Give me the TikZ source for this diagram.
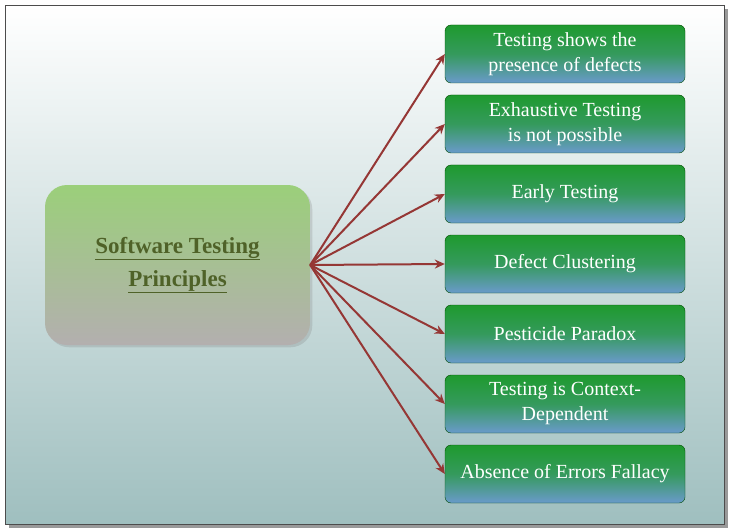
\documentclass[tikz,border=0pt]{standalone}
\usepackage{fontspec}
\setmainfont{Liberation Serif}
\usetikzlibrary{arrows.meta,shadows}
\definecolor{arr}{HTML}{953735}
\definecolor{boxg}{HTML}{1E9A2E}
\definecolor{boxb}{HTML}{6A9ACB}
\definecolor{cg}{HTML}{9BCF7A}
\definecolor{cb}{HTML}{B3AFAF}
\definecolor{ctext}{HTML}{4F6228}
\definecolor{bgb}{HTML}{9FBFBF}
\tikzset{
 pbox/.style={draw=black!70!green, rounded corners=6pt, minimum width=240pt, minimum height=58pt,
   top color=boxg, bottom color=boxb, middle color=boxg!70!boxb, align=center, text=white,
   font=\fontsize{20}{25}\selectfont, inner sep=0pt},
 cbox/.style={rounded corners=22pt, minimum width=265pt, minimum height=160pt, top color=cg, bottom color=cb,
   align=center, text=ctext, font=\fontsize{23}{33}\selectfont\bfseries, inner sep=0pt, drop shadow={opacity=0.25}},
 link/.style={draw=arr, line width=2pt, -{Stealth[length=10pt,width=9pt]}}
}
\begin{document}
\begin{tikzpicture}[x=1pt,y=-1pt]
\useasboundingbox (0,0) rectangle (731,532);
\fill[black!40] (9,9) rectangle (728,528);
\shade[top color=white, bottom color=bgb, draw=black!70] (5,5) rectangle (724,524);
\node[cbox] (c) at (177.5,265) {\underline{Software Testing}\\\underline{Principles}};
\node[pbox] (p1) at (565,54) {Testing shows the\\presence of defects};
\node[pbox] (p2) at (565,124) {Exhaustive Testing\\is not possible};
\node[pbox] (p3) at (565,194) {Early Testing};
\node[pbox] (p4) at (565,264) {Defect Clustering};
\node[pbox] (p5) at (565,334) {Pesticide Paradox};
\node[pbox] (p6) at (565,404) {Testing is Context-\\Dependent};
\node[pbox] (p7) at (565,474) {Absence of Errors Fallacy};
\coordinate (o) at (c.east);
\foreach \i in {1,...,7} \draw[link] (o) -- (p\i.west);
\end{tikzpicture}
\end{document}
